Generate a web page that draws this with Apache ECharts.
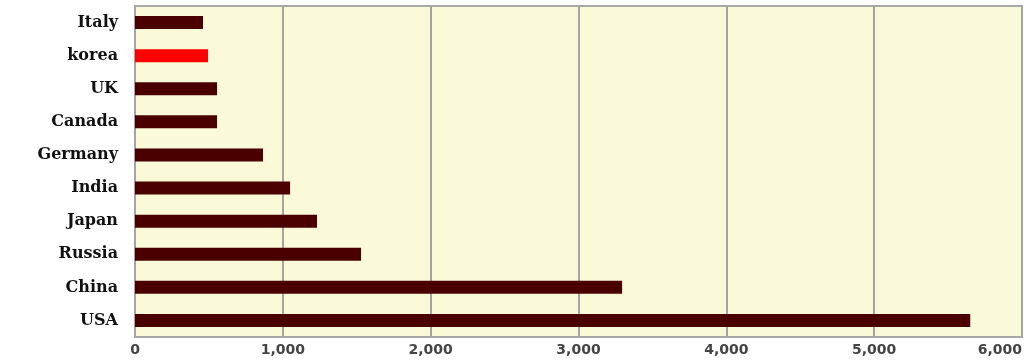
<!DOCTYPE html>
<html lang="en">
<head>
    <meta charset="UTF-8">
    <title>Country chart</title>
    <script src="https://cdn.jsdelivr.net/npm/echarts@6/dist/echarts.min.js"></script>
    <style>
        html, body { margin: 0; padding: 0; background: #fff; }
        #chart { width: 1034px; height: 360px; }
    </style>
</head>
<body>
    <div id="chart"></div>
    <script>
        var countries = ['Italy', 'korea', 'UK', 'Canada', 'Germany', 'India', 'Japan', 'Russia', 'China', 'USA'];
        var values = [460, 494, 555, 555, 866, 1049, 1231, 1529, 3295, 5650];
        var highlight = 'korea';

        var barData = [];
        for (var i = 0; i < countries.length; i++) {
            barData.push({
                value: values[i],
                itemStyle: { color: countries[i] === highlight ? '#ff0000' : '#4a0000' }
            });
        }

        var chart = echarts.init(document.getElementById('chart'));
        chart.setOption({
            animation: false,
            grid: {
                left: 135,
                right: 12,
                top: 6,
                bottom: 23,
                outerBoundsMode: 'none',
                show: true,
                backgroundColor: '#fafad9',
                borderColor: '#a8a8a8',
                borderWidth: 2
            },
            xAxis: {
                type: 'value',
                min: 0,
                max: 6000,
                interval: 1000,
                axisLine: { show: false },
                axisTick: { show: false },
                splitLine: { lineStyle: { color: '#a4a4a4', width: 2 } },
                axisLabel: {
                    margin: 6,
                    color: '#444',
                    fontFamily: 'DejaVu Sans',
                    fontWeight: 'bold',
                    fontSize: 14,
                    alignMaxLabel: 'right',
                    formatter: function(v) { return v.toLocaleString('en-US'); }
                }
            },
            yAxis: {
                type: 'category',
                inverse: true,
                data: countries,
                axisLine: { show: false },
                axisTick: { show: false },
                axisLabel: {
                    margin: 17,
                    color: '#111',
                    fontFamily: 'DejaVu Serif',
                    fontWeight: 'bold',
                    fontSize: 16
                }
            },
            series: [{
                type: 'bar',
                data: barData,
                barWidth: 13
            }]
        });
    </script>
</body>
</html>
